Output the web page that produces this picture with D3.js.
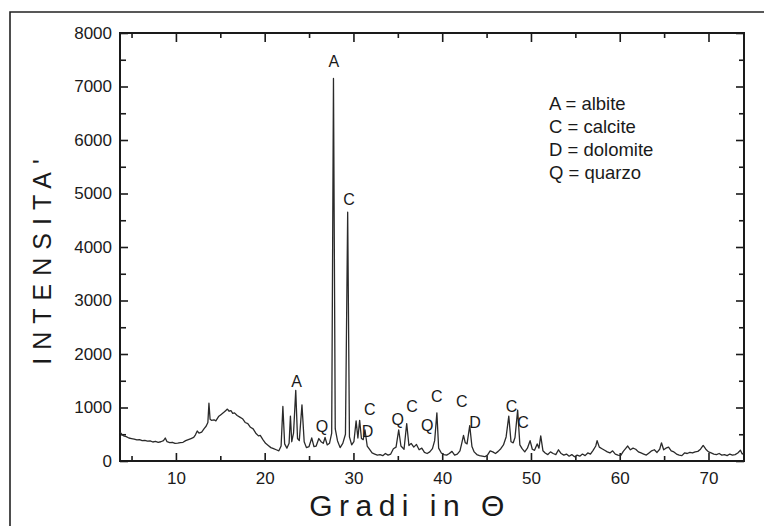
<!DOCTYPE html>
<html>
<head>
<meta charset="utf-8">
<script src="https://cdn.jsdelivr.net/npm/d3@7"></script>
<style>
  body { margin: 0; background: #fff; }
  svg { display: block; }
  .axis path, .axis line { stroke: #1a1a1a; }
  .axis text { font-family: "Liberation Sans", Arial, sans-serif; fill: #1a1a1a; }
</style>
</head>
<body>
<div id="chart"></div>
<script>
// diffrattogramma: angolo (gradi) e intensita
const angoli = [
  3.7, 3.9, 4.1, 4.4, 4.7, 5.0, 5.3, 5.6, 5.9, 6.2, 6.5, 6.8, 7.1, 7.4, 7.7, 8.0, 8.3, 8.6, 8.8, 9.0,
  9.3, 9.6, 9.9, 10.2, 10.5, 10.8, 11.1, 11.4, 11.7, 12.0, 12.2, 12.4, 12.6, 12.9, 13.2, 13.4, 13.6, 13.72, 13.85, 14.0,
  14.3, 14.5, 14.8, 15.1, 15.4, 15.6, 15.8, 16.0, 16.2, 16.4, 16.6, 16.9, 17.2, 17.5, 17.8, 18.1, 18.4, 18.7, 19.0, 19.3,
  19.5, 19.8, 20.1, 20.4, 20.7, 21.0, 21.3, 21.6, 21.85, 22.05, 22.25, 22.5, 22.75, 22.9, 23.05, 23.25, 23.5, 23.7, 23.9, 24.2,
  24.45, 24.7, 25.0, 25.3, 25.55, 25.8, 26.1, 26.35, 26.6, 26.8, 27.05, 27.3, 27.55, 27.75, 27.95, 28.2, 28.5, 28.8, 29.1, 29.35,
  29.55, 29.8, 30.05, 30.3, 30.5, 30.7, 30.9, 31.1, 31.3, 31.55, 31.8, 32.1, 32.4, 32.7, 33.0, 33.3, 33.6, 33.9, 34.2, 34.5,
  34.8, 35.1, 35.35, 35.7, 36.0, 36.25, 36.5, 36.8, 37.1, 37.4, 37.7, 38.0, 38.3, 38.6, 38.9, 39.15, 39.4, 39.6, 39.9, 40.2,
  40.5, 40.8, 41.1, 41.4, 41.7, 42.0, 42.2, 42.4, 42.6, 42.8, 43.1, 43.35, 43.6, 43.9, 44.2, 44.5, 44.8, 45.1, 45.4, 45.7,
  46.0, 46.3, 46.6, 46.9, 47.2, 47.5, 47.75, 48.0, 48.2, 48.5, 48.75, 49.0, 49.3, 49.6, 49.9, 50.15, 50.4, 50.7, 50.9, 51.1,
  51.35, 51.6, 51.9, 52.2, 52.5, 52.8, 53.1, 53.4, 53.7, 54.0, 54.3, 54.6, 54.9, 55.2, 55.5, 55.8, 56.1, 56.4, 56.7, 57.0,
  57.3, 57.45, 57.7, 58.0, 58.3, 58.6, 58.9, 59.2, 59.5, 59.8, 60.1, 60.4, 60.7, 60.9, 61.2, 61.5, 61.8, 62.1, 62.4, 62.7,
  63.0, 63.3, 63.6, 63.9, 64.2, 64.5, 64.7, 64.95, 65.2, 65.5, 65.8, 66.1, 66.4, 66.7, 67.0, 67.3, 67.6, 67.9, 68.2, 68.5,
  68.8, 69.1, 69.4, 69.7, 70.0, 70.3, 70.6, 70.9, 71.2, 71.5, 71.8, 72.1, 72.4, 72.7, 73.0, 73.3, 73.6, 73.8, 74.0
];
const intensita = [
  540, 500, 470, 455, 430, 420, 410, 395, 400, 380, 385, 370, 375, 355, 365, 350, 360, 380, 430, 360,
  345, 350, 330, 335, 345, 350, 380, 400, 420, 440, 490, 560, 520, 540, 610, 650, 720, 1080, 780, 760,
  770, 750, 830, 870, 910, 940, 970, 930, 940, 890, 900, 850, 820, 790, 720, 700, 630, 600, 520, 470,
  480, 400, 330, 290, 250, 230, 210, 190, 280, 1020, 320, 240, 330, 840, 360, 520, 1320, 420, 380, 1050,
  360, 250, 270, 430, 270, 280, 420, 360, 330, 440, 300, 330, 520, 7150, 600, 380, 250, 330, 500, 4650,
  450, 300, 360, 750, 430, 760, 420, 400, 580, 280, 220, 150, 130, 110, 120, 100, 140, 110, 130, 230,
  260, 580, 280, 220, 700, 290, 330, 260, 310, 210, 240, 160, 140, 170, 230, 380, 900, 240, 150, 120,
  110, 140, 180, 110, 130, 190, 330, 480, 340, 320, 660, 270, 170, 120, 100, 90, 80, 110, 190, 170,
  140, 180, 230, 300, 450, 840, 360, 340, 440, 950, 300, 230, 170, 240, 380, 220, 200, 320, 240, 470,
  190, 150, 120, 170, 140, 120, 210, 140, 110, 130, 90, 120, 80, 110, 90, 130, 100, 150, 130, 200,
  280, 380, 260, 230, 200, 170, 150, 190, 130, 110, 100, 180, 240, 280, 210, 240, 220, 170, 150, 130,
  110, 150, 190, 210, 160, 220, 340, 210, 240, 260, 190, 170, 130, 110, 100, 150, 140, 160, 150, 170,
  180, 220, 290, 220, 170, 150, 130, 120, 140, 110, 120, 100, 130, 110, 120, 150, 200, 130, 150
];

// etichette dei picchi
const picchiTesto = ["A", "C", "A", "Q", "D", "C", "Q", "C", "Q", "C", "C", "D", "C", "C"];
const picchiX = [27.8, 29.5, 23.6, 26.45, 31.6, 31.85, 35.0, 36.6, 38.3, 39.4, 42.2, 43.7, 47.8, 49.1];
const picchiY = [7480, 4900, 1500, 655, 560, 970, 785, 1030, 675, 1215, 1120, 730, 1030, 730];

const legenda = ["A = albite", "C = calcite", "D = dolomite", "Q = quarzo"];

const xMajor = [10, 20, 30, 40, 50, 60, 70];
const xMinor = [5, 15, 25, 35, 45, 55, 65];
const yMajor = [0, 1000, 2000, 3000, 4000, 5000, 6000, 7000, 8000];
const yMinor = [500, 1500, 2500, 3500, 4500, 5500, 6500, 7500];

const W = 764, H = 526;
const margin = { left: 120, right: 744, top: 33, bottom: 461 };

const svg = d3.select('#chart').append('svg')
    .attr('width', W)
    .attr('height', H);

svg.append('rect').attr('width', W).attr('height', H).attr('fill', '#fff');

// cornice esterna (solo lati visibili)
svg.append('path')
    .attr('d', `M10,${H} L10,12 L${W},12`)
    .attr('fill', 'none')
    .attr('stroke', '#222')
    .attr('stroke-width', 1.6);

const x = d3.scaleLinear().domain([3.7, 74.0]).range([margin.left, margin.right]);
const y = d3.scaleLinear().domain([0, 8000]).range([margin.bottom, margin.top]);

// assi
function addAxis(axis, tx, ty, withText) {
    const g = svg.append('g')
        .attr('class', 'axis')
        .attr('transform', `translate(${tx},${ty})`)
        .call(axis);
    g.select('.domain').remove();
    g.selectAll('line').attr('stroke-width', 1.6);
    if (!withText) g.selectAll('text').remove();
    return g;
}

addAxis(d3.axisBottom(x).tickValues(xMajor).tickSize(-8).tickPadding(11), 0, margin.bottom, true)
    .selectAll('text').attr('font-size', 17);
addAxis(d3.axisBottom(x).tickValues(xMinor).tickSize(-5).tickFormat(''), 0, margin.bottom, false);
addAxis(d3.axisTop(x).tickValues(xMajor).tickSize(-9).tickFormat(''), 0, margin.top, false);
addAxis(d3.axisTop(x).tickValues(xMinor).tickSize(-5).tickFormat(''), 0, margin.top, false);

addAxis(d3.axisLeft(y).tickValues(yMajor).tickSize(-8).tickPadding(8).tickFormat(d3.format('d')), margin.left, 0, true)
    .selectAll('text').attr('font-size', 17);
addAxis(d3.axisLeft(y).tickValues(yMinor).tickSize(-6).tickFormat(''), margin.left, 0, false);
addAxis(d3.axisRight(y).tickValues(yMajor).tickSize(-8).tickFormat(''), margin.right, 0, false);
addAxis(d3.axisRight(y).tickValues(yMinor).tickSize(-5).tickFormat(''), margin.right, 0, false);

svg.append('rect')
    .attr('x', margin.left).attr('y', margin.top)
    .attr('width', margin.right - margin.left).attr('height', margin.bottom - margin.top)
    .attr('fill', 'none')
    .attr('stroke', '#1a1a1a')
    .attr('stroke-width', 2);

// tracciato
const punti = angoli.map((a, i) => [a, intensita[i]]);
const line = d3.line().x(d => x(d[0])).y(d => y(d[1]));

svg.append('path')
    .datum(punti)
    .attr('d', line)
    .attr('fill', 'none')
    .attr('stroke', '#2a2a2a')
    .attr('stroke-width', 1.3)
    .attr('stroke-linejoin', 'round');

// etichette picchi
svg.selectAll('.picco')
    .data(picchiTesto)
    .enter().append('text')
    .attr('class', 'picco')
    .attr('x', (d, i) => x(picchiX[i]))
    .attr('y', (d, i) => y(picchiY[i]))
    .attr('dy', '0.36em')
    .attr('text-anchor', 'middle')
    .attr('font-family', '"Liberation Sans", Arial, sans-serif')
    .attr('font-size', 16)
    .attr('fill', '#1a1a1a')
    .text(d => d);

// legenda
svg.selectAll('.leg')
    .data(legenda)
    .enter().append('text')
    .attr('class', 'leg')
    .attr('x', 549)
    .attr('y', (d, i) => 110 + i * 23)
    .attr('font-family', '"Liberation Sans", Arial, sans-serif')
    .attr('font-size', 18.5)
    .attr('fill', '#1a1a1a')
    .text(d => d);

// titoli assi
svg.append('text')
    .attr('transform', 'translate(51,258) rotate(-90)')
    .attr('text-anchor', 'middle')
    .attr('font-family', '"Liberation Sans", Arial, sans-serif')
    .attr('font-size', 25)
    .attr('letter-spacing', 8)
    .attr('fill', '#1a1a1a')
    .text("INTENSITA'");

svg.append('text')
    .attr('x', 410)
    .attr('y', 516)
    .attr('text-anchor', 'middle')
    .attr('font-family', '"Liberation Sans", Arial, sans-serif')
    .attr('font-size', 30)
    .attr('letter-spacing', 6.5)
    .attr('fill', '#1a1a1a')
    .text('Gradi in \u0398');
</script>
</body>
</html>
